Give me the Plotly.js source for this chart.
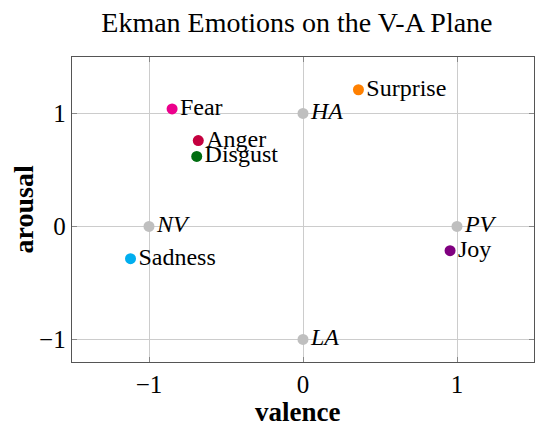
<!DOCTYPE html>
<html>
<head>
<meta charset="utf-8">
<script src="https://cdn.plot.ly/plotly-3.0.1.min.js"></script>
<style>html,body{margin:0;padding:0;background:#fff;}#chart{width:535px;height:427px;}</style>
</head>
<body>
<div id="chart"></div>
<script>
// Reference points (neutral anchors)
const refLabels = ["<i>NV</i>", "<i>HA</i>", "<i>PV</i>", "<i>LA</i>"];
const refValence = [-1, 0, 1, 0];
const refArousal = [0, 1, 0, -1];

// Ekman emotions
const emotions = ["Fear", "Surprise", "Anger", "Disgust", "Sadness", "Joy"];
const emoValence = [-0.85, 0.36, -0.68, -0.69, -1.12, 0.955];
const emoArousal = [1.04, 1.21, 0.76, 0.62, -0.285, -0.215];
const emoColors = ["#ec008c", "#ff8000", "#c4003f", "#006d10", "#00aeef", "#800080"];

const xTicks = [-1, 0, 1];
const yTicks = [-1, 0, 1];
const tickText = v => (v < 0 ? "\u2212" + Math.abs(v) : String(v));

const font = "Liberation Serif, Times New Roman, serif";

const traces = [
  {
    type: "scatter", mode: "markers+text",
    x: refValence, y: refArousal, text: refLabels,
    textposition: "middle right",
    marker: {size: 11, color: "#bfbfbf"},
    textfont: {family: font, size: 24, color: "#000"},
    cliponaxis: false, hoverinfo: "none"
  },
  {
    type: "scatter", mode: "markers+text",
    x: emoValence, y: emoArousal, text: emotions,
    textposition: "middle right",
    marker: {size: 11, color: emoColors},
    textfont: {family: font, size: 24, color: "#000"},
    cliponaxis: false, hoverinfo: "none"
  }
];

const axisCommon = {
  showgrid: true, gridcolor: "#cccccc", gridwidth: 1,
  zeroline: false,
  showline: true, linecolor: "#555555", linewidth: 1.3, mirror: "ticks",
  ticks: "inside", ticklen: 5, tickcolor: "#888888",
  tickfont: {family: font, size: 25, color: "#000"}
};

const layout = {
  width: 535, height: 427,
  margin: {l: 72, r: 1, t: 57, b: 65},
  paper_bgcolor: "#fff", plot_bgcolor: "#fff",
  showlegend: false,
  title: {text: "Ekman Emotions on the V-A Plane", x: 0.555, xanchor: "center", y: 0.948, yanchor: "middle",
          font: {family: font, size: 28, color: "#000"}},
  xaxis: Object.assign({}, axisCommon, {
    range: [-1.5, 1.5], tickvals: xTicks, ticktext: xTicks.map(tickText)
  }),
  yaxis: Object.assign({}, axisCommon, {
    range: [-1.2, 1.5], tickvals: yTicks, ticktext: yTicks.map(tickText)
  }),
  annotations: [
    {text: "<b>valence</b>", xref: "paper", yref: "paper", x: 0.488, y: -0.163,
     xanchor: "center", yanchor: "middle", showarrow: false, borderpad: 0,
     font: {family: font, size: 27, color: "#000"}},
    {text: "<b>arousal</b>", xref: "paper", yref: "paper", x: -0.104, y: 0.5,
     xanchor: "center", yanchor: "middle", textangle: -90, showarrow: false,
     font: {family: font, size: 28, color: "#000"}}
  ]
};

Plotly.newPlot("chart", traces, layout, {staticPlot: true, displayModeBar: false});
</script>
</body>
</html>
